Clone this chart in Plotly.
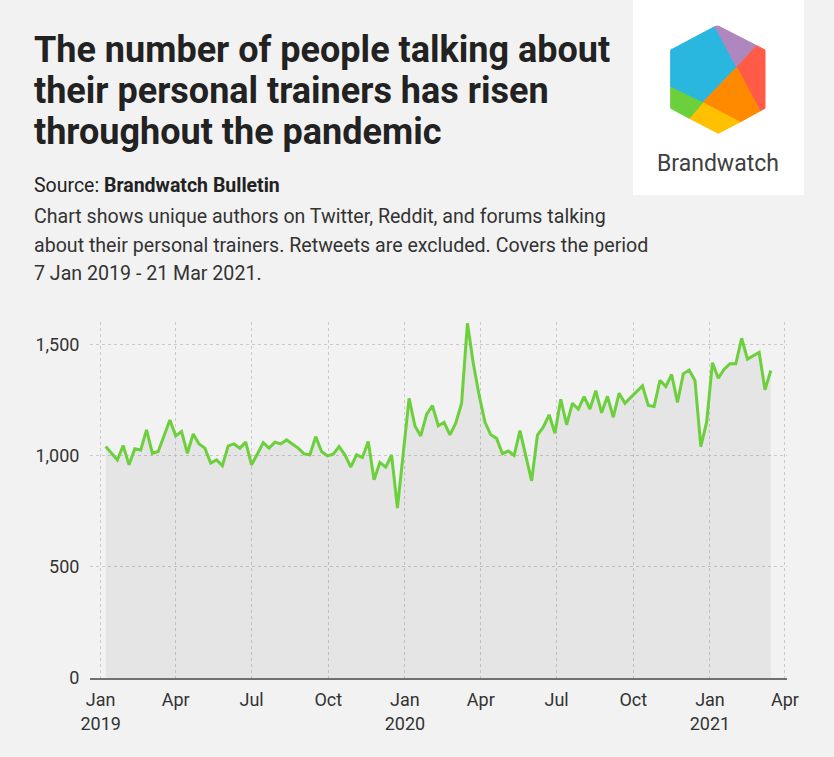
import plotly.graph_objects as go
import pandas as pd

# ---------------- data ----------------
start_week = "2019-01-07"
values = [
    1040, 1010, 980, 1045, 958, 1030, 1025, 1115, 1010, 1018,
    1090, 1160, 1088, 1108, 1010, 1097, 1052, 1033, 966, 980,
    954, 1043, 1052, 1033, 1060, 958, 1007, 1058, 1033, 1060,
    1052, 1070, 1052, 1033, 1007, 1003, 1085, 1018, 998, 1006,
    1040, 1003, 948, 1003, 991, 1063, 891, 969, 948, 1003,
    764, 1010, 1257, 1133, 1088, 1185, 1224, 1134, 1149, 1093,
    1145, 1235, 1594, 1415, 1272, 1150, 1093, 1077, 1008, 1020,
    1000, 1112, 1003, 886, 1092, 1127, 1183, 1100, 1253, 1138,
    1235, 1208, 1264, 1209, 1291, 1192, 1266, 1172, 1280, 1235,
    1261, 1287, 1313, 1225, 1220, 1338, 1310, 1364, 1238, 1367,
    1384, 1337, 1040, 1150, 1417, 1347, 1388, 1412, 1412, 1527,
    1433, 1448, 1463, 1295, 1382,
]
dates = pd.date_range(start_week, periods=len(values), freq="7D")

tick_dates = ["2019-01-01", "2019-04-01", "2019-07-01", "2019-10-01", "2020-01-01",
              "2020-04-01", "2020-07-01", "2020-10-01", "2021-01-01", "2021-04-01"]
tick_labels = ["Jan<br>2019", "Apr", "Jul", "Oct", "Jan<br>2020",
               "Apr", "Jul", "Oct", "Jan<br>2021", "Apr"]
y_ticks = [0, 500, 1000, 1500]

title_lines = ["The number of people talking about",
               "their personal trainers has risen",
               "throughout the pandemic"]
source_text = "Source: <b>Brandwatch Bulletin</b>"
desc_lines = ["Chart shows unique authors on Twitter, Reddit, and forums talking",
              "about their personal trainers. Retweets are excluded. Covers the period",
              "7 Jan 2019 - 21 Mar 2021."]

# ---------------- layout helpers ----------------
W, H = 834, 757
L, R, T, B = 90, 787, 322, 678
FONT = "Roboto"
BG = "#f2f2f2"


def px(x):
    return (x - L) / (R - L)


def py(y):
    return (B - y) / (B - T)


def path(points):
    return "M " + " L ".join(f"{px(x):.5f},{py(y):.5f}" for x, y in points) + " Z"


fig = go.Figure()
fig.add_trace(go.Scatter(
    x=dates, y=values, mode="lines",
    line=dict(color="#6ccf3c", width=3),
    fill="tozeroy", fillcolor="rgba(0,0,0,0.05)",
    hoverinfo="x+y", showlegend=False,
))

annotations = []
for i, t in enumerate(title_lines):
    annotations.append(dict(
        text=f"<b>{t}</b>", x=px(32), y=py(50 + i * 41), xref="paper", yref="paper",
        xanchor="left", yanchor="middle", showarrow=False,
        font=dict(family=FONT, size=36, color="#222222"),
    ))
annotations.append(dict(
    text=source_text, x=px(32), y=py(186), xref="paper", yref="paper",
    xanchor="left", yanchor="middle", showarrow=False,
    font=dict(family=FONT, size=19.5, color="#222222"),
))
for i, t in enumerate(desc_lines):
    annotations.append(dict(
        text=t, x=px(32), y=py(217 + i * 28), xref="paper", yref="paper",
        xanchor="left", yanchor="middle", showarrow=False,
        font=dict(family=FONT, size=19.6, color="#333333"),
    ))
annotations.append(dict(
    text="Brandwatch", x=px(718), y=py(164), xref="paper", yref="paper",
    xanchor="center", yanchor="middle", showarrow=False,
    font=dict(family=FONT, size=23, color="#404040"),
))

# logo geometry (pixel coordinates)
TOP = (718.3, 26); UR = (765, 50); LR = (765, 108.3)
BOT = (718.3, 133.3); LL = (670.7, 108.3); UL = (670.7, 50)
C = (736.7, 67.3); P1 = (715, 26.5); P2 = (756.7, 45.7); P3 = (760, 111)
P4 = (702.7, 102.7); P5 = (740, 122); P6 = (689.3, 118.3); P7 = (670.7, 87.3)

shapes = [
    dict(type="rect", xref="paper", yref="paper", x0=px(633), x1=px(804),
         y0=py(0), y1=py(195), fillcolor="white", line=dict(width=0), layer="below"),
]
pieces = [
    ([UL, P1, C, P4, P7], "#29b6df"),
    ([P1, TOP, P2, C], "#b086bf"),
    ([P2, UR, LR, P3, C], "#ff5b47"),
    ([C, P3, P5, P4], "#ff8a00"),
    ([P4, P5, BOT, P6], "#ffc000"),
    ([P7, P4, P6, LL], "#6ccf3c"),
]
for pts, col in pieces:
    shapes.append(dict(type="path", xref="paper", yref="paper", path=path(pts),
                       fillcolor=col, line=dict(color=col, width=1), layer="above"))

fig.update_layout(
    width=W, height=H,
    margin=dict(l=L, r=W - R, t=T, b=H - B, pad=0),
    paper_bgcolor=BG, plot_bgcolor=BG,
    font=dict(family=FONT, size=18, color="#333333"),
    annotations=annotations, shapes=shapes,
    xaxis=dict(
        type="date",
        range=["2018-12-19 04:00", "2021-04-03 10:00"],
        tickvals=tick_dates, ticktext=tick_labels,
        showgrid=True, gridcolor="#c9c9c9", griddash="3px,3px", gridwidth=1,
        showline=True, linecolor="#707070", linewidth=1.5,
        ticks="outside", ticklen=5, tickcolor="rgba(0,0,0,0)",
        tickfont=dict(family=FONT, size=18, color="#333333"),
        zeroline=False, fixedrange=True,
    ),
    yaxis=dict(
        range=[0, 1600],
        tickvals=y_ticks, tickformat=",",
        showgrid=True, gridcolor="#c9c9c9", griddash="3px,3px", gridwidth=1,
        zeroline=False, showline=False,
        ticks="outside", ticklen=6, tickcolor="rgba(0,0,0,0)",
        tickfont=dict(family=FONT, size=18, color="#333333"),
        fixedrange=True,
    ),
)

fig.write_html(
    "out.html",
    config={"displayModeBar": False},
    post_script=(
        "document.body.style.margin='0';"
        "document.body.style.padding='0';"
        f"document.body.style.background='{BG}';"
    ),
)
